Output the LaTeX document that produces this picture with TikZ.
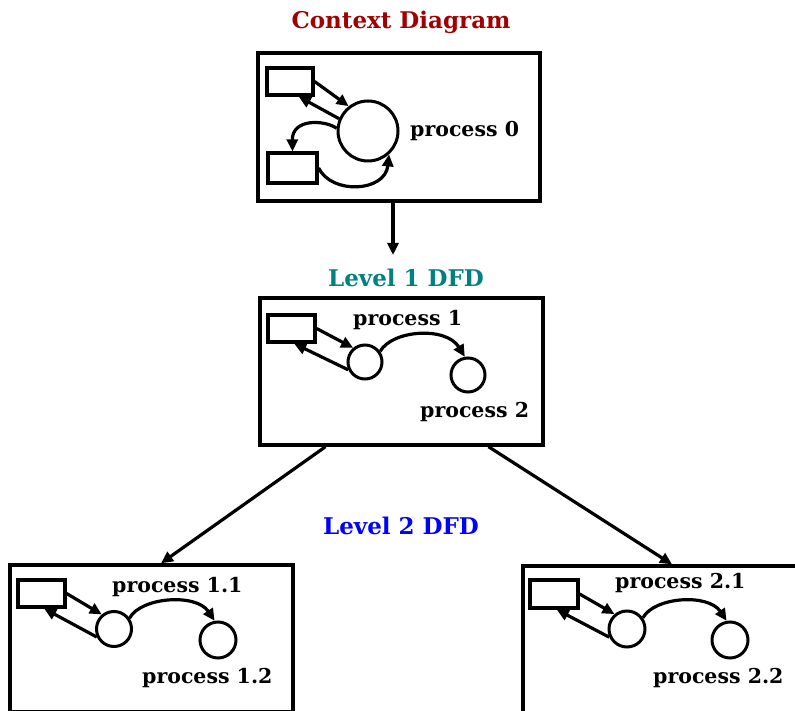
\documentclass[tikz,border=0pt]{standalone}
\usepackage{fontspec}
\setmainfont{DejaVu Serif}
\usetikzlibrary{arrows.meta,calc}
\definecolor{ctxred}{RGB}{160,0,0}
\definecolor{lteal}{RGB}{0,128,128}
\definecolor{lblue}{RGB}{0,0,255}
\begin{document}
\begin{tikzpicture}[x=1pt,y=-1pt,
  frame/.style={draw, line width=3.4pt, minimum width=283pt, minimum height=147pt, inner sep=0pt},
  ent/.style={draw, line width=3.2pt, inner sep=0pt},
  proc/.style={draw, circle, line width=3pt, inner sep=0pt},
  flow/.style={line width=3.2pt, -{Triangle[length=12pt,width=11pt]}},
  lbl/.style={font=\bfseries\fontsize{20.5}{22}\selectfont, inner sep=0pt, anchor=west},
  ttl/.style={font=\bfseries\fontsize{23}{26}\selectfont, inner sep=0pt}]
\useasboundingbox (0,0) rectangle (795,711);
\clip (0,0) rectangle (795,711);

% ---------- Context diagram ----------
\node[ttl, text=ctxred] (t0) at (401,22) {Context Diagram};
\node[frame, minimum width=282pt, minimum height=148pt] (ctx) at (399,127) {};
\node[ent, minimum width=46pt, minimum height=27pt] (e1) at (290,81.5) {};
\node[ent, minimum width=49pt, minimum height=30pt] (e2) at (292.5,168) {};
\node[proc, minimum size=60pt] (p0) at (368,131) {};
\node[lbl] (l0) at (410,131) {process 0};
\draw[flow] (e1.east) -- (p0.128);
\draw[flow] (p0.157) -- (e1.-60);
\draw[flow] (p0.175) .. controls (325,120) and (292,118) .. (e2.north);
\draw[flow] (e2.east) .. controls (332,195) and (385,192) .. (p0.-48);
\coordinate (dn) at (393,255);
\draw[flow] (ctx.south -| dn) -- (dn);

% ---------- Level 1 ----------
\node[ttl, text=lteal] (t1) at (406,278) {Level 1 DFD};
\node[frame] (l1) at (401.5,371.5) {};
\node[ent, minimum width=47pt, minimum height=27pt] (e3) at (291.5,328.5) {};
\node[proc, minimum size=34pt] (p1) at (365,362) {};
\node[proc, minimum size=34pt] (p2) at (468,375) {};
\node[lbl] (l1a) at (353,320) {process 1};
\node[lbl] (l1b) at (420,412) {process 2};
\draw[flow] (e3.east) -- (p1.130);
\draw[flow] (p1.205) -- (e3.-80);
\draw[flow] (p1.35) .. controls (392,330) and (446,326) .. (p2.100);

% ---------- Level 2 ----------
\node[ttl, text=lblue] (t2) at (401,526) {Level 2 DFD};
\node[frame] (lb) at (151.5,638.5) {};
\node[frame] (rb) at (664.5,639.5) {};
\draw[flow] ($(l1.south)+(-76,0)$) -- ($(lb.north)+(9.5,0)$);
\draw[flow] ($(l1.south)+(87,0)$) -- ($(rb.north)+(7.5,0)$);

% left level-2 box
\node[ent, minimum width=47pt, minimum height=27pt] (e4) at (41.5,593.5) {};
\node[proc, minimum size=35pt] (p11) at (114,629) {};
\node[proc, minimum size=36pt] (p12) at (218,640) {};
\node[lbl] (l11) at (112,587) {process 1.1};
\node[lbl] (l12) at (142,678) {process 1.2};
\draw[flow] (e4.east) -- (p11.130);
\draw[flow] (p11.205) -- (e4.-80);
\draw[flow] (p11.35) .. controls (141,597) and (196,593) .. (p12.100);

% right level-2 box
\node[ent, minimum width=48pt, minimum height=28pt] (e5) at (554,594) {};
\node[proc, minimum size=36pt] (p21) at (627,629) {};
\node[proc, minimum size=36pt] (p22) at (730,640) {};
\node[lbl] (l21) at (615,583) {process 2.1};
\node[lbl] (l22) at (653,678) {process 2.2};
\draw[flow] (e5.east) -- (p21.130);
\draw[flow] (p21.205) -- (e5.-80);
\draw[flow] (p21.35) .. controls (654,597) and (708,593) .. (p22.100);
\end{tikzpicture}
\end{document}
